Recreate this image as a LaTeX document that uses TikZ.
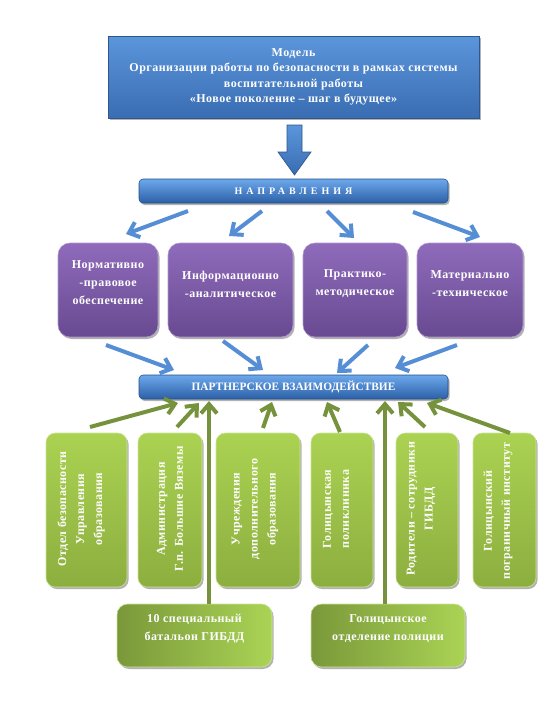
\documentclass[tikz,border=0pt]{standalone}
\usepackage{fontspec}
\setmainfont{Liberation Serif}[LetterSpace=4]
\usetikzlibrary{arrows.meta,shadows,calc}
\definecolor{arrblue}{HTML}{558ED5}
\definecolor{arrgreen}{HTML}{76923C}
\definecolor{topA}{HTML}{5B95DB}
\definecolor{topB}{HTML}{3A6DB2}
\definecolor{barA}{HTML}{6DA8EC}
\definecolor{barB}{HTML}{2C60A6}
\definecolor{purA}{HTML}{8F6BBB}
\definecolor{purB}{HTML}{684A91}
\definecolor{grnA}{HTML}{ABD252}
\definecolor{grnB}{HTML}{8CAE3F}
\definecolor{botA}{HTML}{7A983A}
\definecolor{botB}{HTML}{AAD455}
\tikzset{
  sz/.style 2 args={minimum width=#1*0.75pt, minimum height=#2*0.75pt},
  base/.style={inner sep=0pt, outer sep=0pt, text=white, align=center},
  shad/.style={drop shadow={shadow xshift=1.2pt, shadow yshift=-1.5pt, opacity=0.3, fill=black}},
  topbox/.style={base, shad, rectangle, top color=topA, bottom color=topB, draw=topB!80!black, line width=0.4pt,
    font=\fontsize{9}{11.5}\selectfont\bfseries},
  barbox/.style={base, shad, rectangle, rounded corners=3pt, top color=barA, bottom color=barB, draw=barB!80!black, line width=0.4pt},
  purbox/.style={base, shad, rectangle, rounded corners=9pt, top color=purA, bottom color=purB, draw=purA!70!white, line width=0.4pt},
  grnbox/.style={base, shad, rectangle, rounded corners=7pt, top color=grnA, bottom color=grnB, draw=grnA!60!white, line width=0.4pt},
  botbox/.style={base, shad, rectangle, rounded corners=8pt, left color=botA, right color=botB, draw=botB!60!white, line width=0.4pt},
  lbl/.style={base, font=\fontsize{9}{13.5}\selectfont\bfseries},
  barrow/.style={draw=arrblue, line width=3pt, -{Straight Barb[length=7pt,width=12pt]}},
  garrow/.style={draw=arrgreen, line width=3pt, -{Straight Barb[length=7pt,width=12pt]}},
}
\begin{document}
\begin{tikzpicture}[x=0.75pt,y=-0.75pt]
\useasboundingbox[fill=white] (0,0) rectangle (545,701);

% top box
\node[topbox, sz={371}{82}] (top) at (293.5,77) {};
\node[lbl, font=\fontsize{9}{11.5}\selectfont\bfseries] (toptxt) at (293.5,77)
  {Модель\\Организации работы по безопасности в рамках системы\\воспитательной работы\\«Новое поколение – шаг в будущее»};

% down arrow
\path[top color=topA, bottom color=topB, draw=topB!80!black, line width=0.5pt]
  (287,125) -- (302,125) -- (302,152) -- (311,152) -- (294.5,175) -- (278,152) -- (287,152) -- cycle;

% directions bar
\node[barbox, sz={309}{24}] (nap) at (293.5,191) {};
\node[lbl, font=\fontsize{7.5}{9}\selectfont\bfseries\addfontfeature{LetterSpace=40}] (naptxt) at (293.5,191) {НАПРАВЛЕНИЯ};

% purple boxes
\node[purbox, sz={100}{94}] (p1) at (108,290) {};
\node[purbox, sz={125}{94}] (p2) at (230.5,290) {};
\node[purbox, sz={104}{94}] (p3) at (355,290) {};
\node[purbox, sz={106}{94}] (p4) at (470,290) {};
\node[lbl] (p1t) at (108,283) {Нормативно\\-правовое\\обеспечение};
\node[lbl] (p2t) at (230.5,284) {Информационно\\-аналитическое};
\node[lbl] (p3t) at (355,284) {Практико-\\методическое};
\node[lbl] (p4t) at (470,284) {Материально\\-техническое};

% partner bar
\node[barbox, sz={309}{24}] (par) at (293.5,387) {};
\node[lbl, font=\fontsize{8.5}{10}\selectfont\bfseries\addfontfeature{LetterSpace=0}] (partxt) at (293.5,387) {ПАРТНЕРСКОЕ ВЗАИМОДЕЙСТВИЕ};

% green boxes
\node[grnbox, sz={81}{154}] (g1) at (86.5,510) {};
\node[grnbox, sz={64}{154}] (g2) at (170,510) {};
\node[grnbox, sz={84}{154}] (g3) at (258,510) {};
\node[grnbox, sz={62}{154}] (g4) at (342,510) {};
\node[grnbox, sz={62}{154}] (g5) at (427,510) {};
\node[grnbox, sz={63}{154}] (g6) at (504.5,510) {};
\node[lbl, rotate=90] (g1t) at (81,509) {Отдел безопасности\\Управления\\образования};
\node[lbl, rotate=90] (g2t) at (170,509) {Администрация\\Г.п. Большие Вяземы};
\node[lbl, rotate=90] (g3t) at (255,509) {Учреждения\\дополнительного\\образования};
\node[lbl, rotate=90] (g4t) at (336,509) {Голицынская\\поликлиника};
\node[lbl, rotate=90] (g5t) at (421,509) {Родители – сотрудники\\ГИБДД};
\node[lbl, rotate=90] (g6t) at (498,511) {Голицынский\\пограничный институт};

% bottom boxes
\node[botbox, sz={155}{63}] (b1) at (194.5,635.5) {};
\node[botbox, sz={154}{63}] (b2) at (388,635.5) {};
\node[lbl] (b1t) at (194.5,629) {10 специальный\\батальон ГИБДД};
\node[lbl] (b2t) at (388,629) {Голицынское\\отделение полиции};

% blue arrow endpoints
\coordinate (n1s) at (188,211); \coordinate (n1e) at (126,234);
\coordinate (n2s) at (262,211); \coordinate (n2e) at (229,236);
\coordinate (n3s) at (327,211); \coordinate (n3e) at (354,238);
\coordinate (n4s) at (413,212); \coordinate (n4e) at (480,237);
\coordinate (m1s) at (106,345); \coordinate (m1e) at (174,370);
\coordinate (m2s) at (223,341); \coordinate (m2e) at (263,370);
\coordinate (m3s) at (368,345); \coordinate (m3e) at (337,373);
\coordinate (m4s) at (457,345); \coordinate (m4e) at (395,368);
\draw[barrow] (n1s) -- (n1e);
\draw[barrow] (n2s) -- (n2e);
\draw[barrow] (n3s) -- (n3e);
\draw[barrow] (n4s) -- (n4e);
\draw[barrow] (m1s) -- (m1e);
\draw[barrow] (m2s) -- (m2e);
\draw[barrow] (m3s) -- (m3e);
\draw[barrow] (m4s) -- (m4e);

% green arrows
\coordinate (q1s) at (90,427);  \coordinate (q1e) at (178,403);
\coordinate (q2s) at (177,427); \coordinate (q2e) at (199,403);
\coordinate (q3s) at (263,428); \coordinate (q3e) at (272,402);
\coordinate (q4s) at (340,432); \coordinate (q4e) at (327,402);
\coordinate (q5s) at (425,427); \coordinate (q5e) at (398,402);
\coordinate (q6s) at (510,433); \coordinate (q6e) at (427,403);
\coordinate (v1e) at (209,401); \coordinate (v2e) at (385,401);
\draw[garrow] (q1s) -- (q1e);
\draw[garrow] (q2s) -- (q2e);
\draw[garrow] (q3s) -- (q3e);
\draw[garrow] (q4s) -- (q4e);
\draw[garrow] (q5s) -- (q5e);
\draw[garrow] (q6s) -- (q6e);
\draw[garrow] (b1.north -| v1e) -- (v1e);
\draw[garrow] (b2.north -| v2e) -- (v2e);
\end{tikzpicture}
\end{document}
